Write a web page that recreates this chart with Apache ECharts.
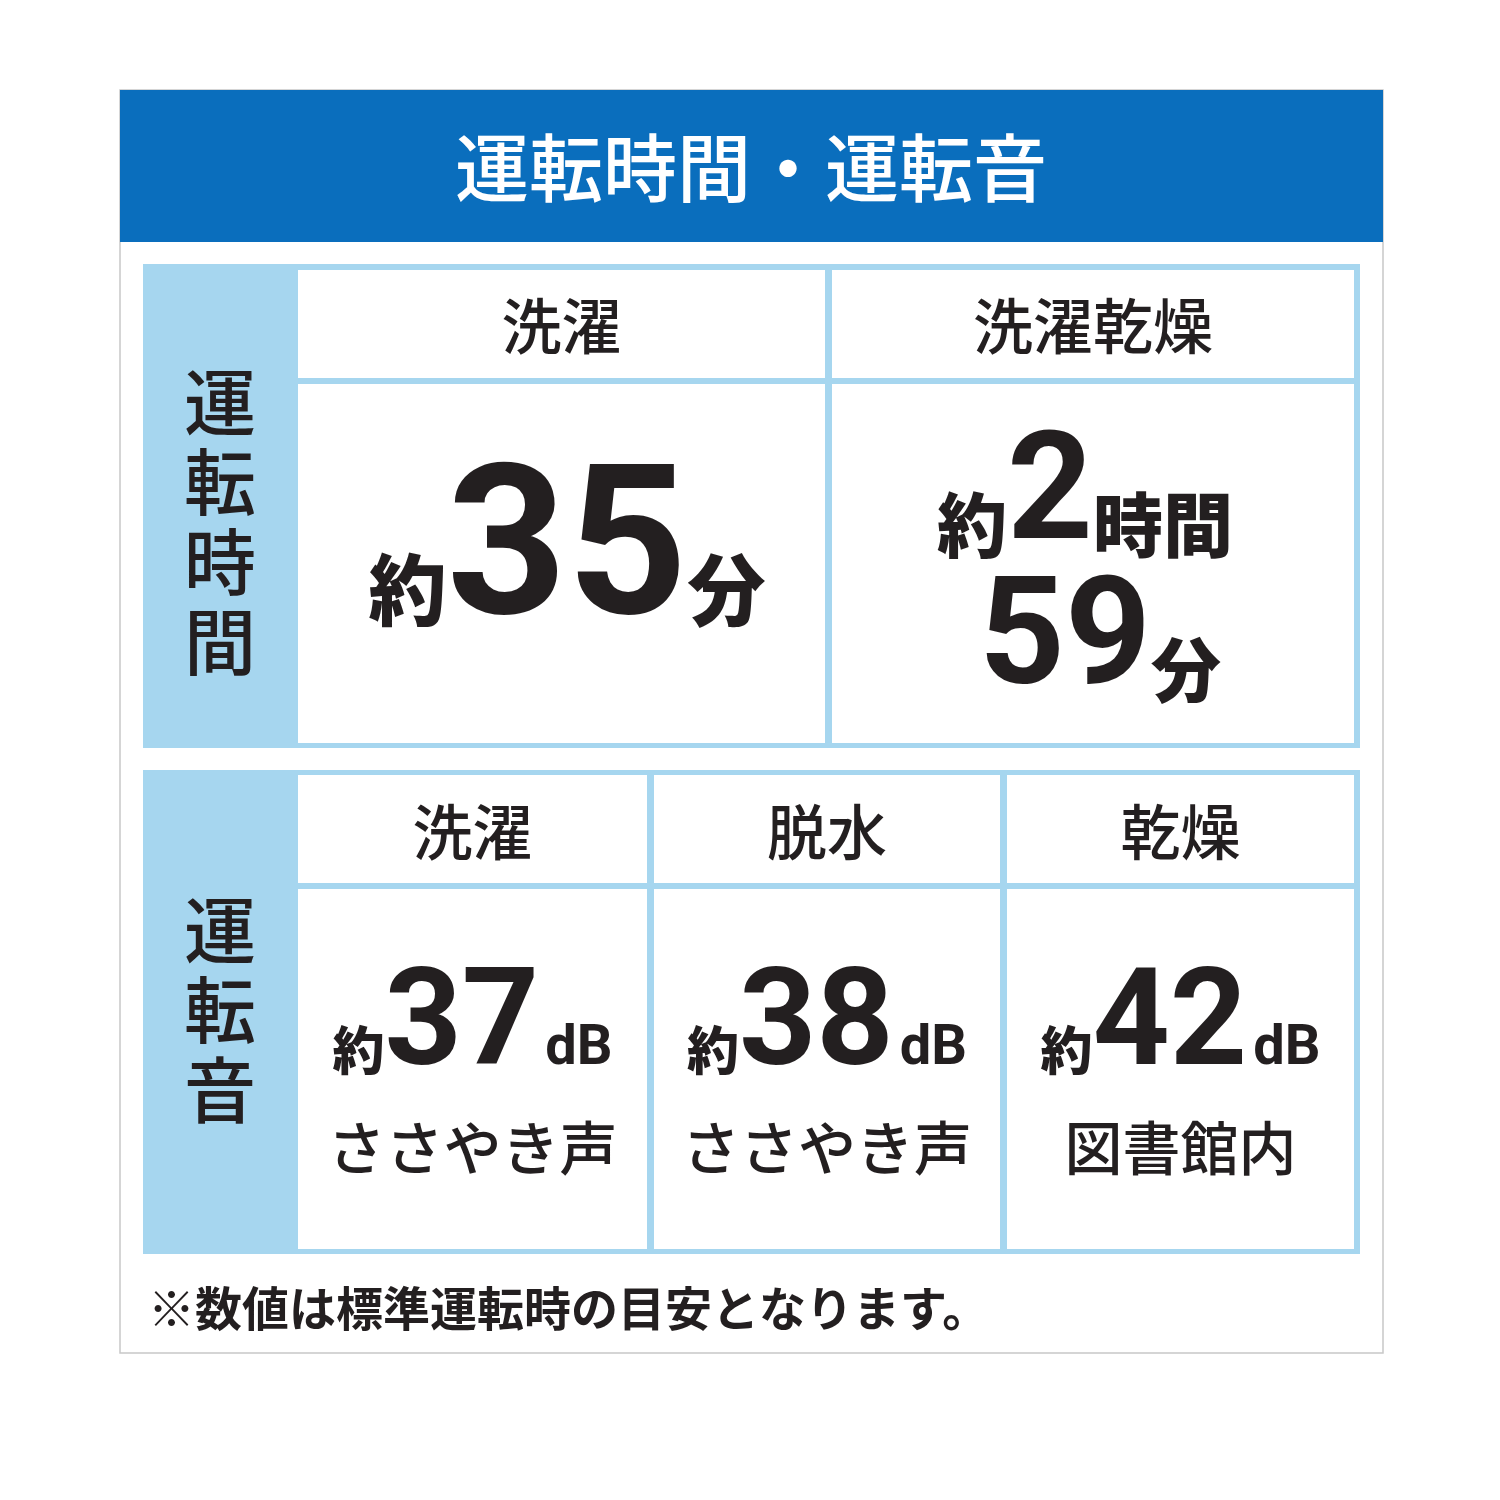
<!DOCTYPE html>
<html><head><meta charset="utf-8">
<script src="https://cdn.jsdelivr.net/npm/echarts@6/dist/echarts.min.js"></script>
<style>body{margin:0;background:#fff}#main{width:1500px;height:1500px}</style>
</head><body><div id="main"></div>
<script>
var title = "運転時間・運転音";
var timeLabel = "運転時間";
var soundLabel = "運転音";
var timeModes = ["洗濯", "洗濯乾燥"];
var timeHours = [null, 2];
var timeMinutes = [35, 59];
var soundModes = ["洗濯", "脱水", "乾燥"];
var soundDb = [37, 38, 42];
var soundExamples = ["ささやき声", "ささやき声", "図書館内"];
var note = "※数値は標準運転時の目安となります。";

var myChart = echarts.init(document.getElementById("main"));
var FONT = "Noto Sans CJK JP";
var INK = "#231f20";
var LIGHT = "#a6d6ef";
var els = [];

function rect(x, y, w, h, fill, stroke) {
    els.push({ type: "rect", shape: { x: x, y: y, width: w, height: h },
        style: { fill: fill, stroke: stroke || null, lineWidth: stroke ? 1.5 : 0 } });
}
function text(x, y, t, size, weight, color, rich, lh) {
    els.push({ type: "text", x: x, y: y, style: { text: t, fontSize: size, fontWeight: weight || 500,
        fontFamily: FONT, fill: color || INK, align: "center", verticalAlign: "middle", rich: rich,
        lineHeight: lh } });
}

rect(120, 90, 1263, 1263, "#fff", "#c8c8c8");
rect(120, 90, 1263, 152, "#0a6ebd");
text(751, 168, title, 74, 500, "#fff");

// section 1
rect(143, 264, 1217, 484, LIGHT);
text(220, 522, timeLabel.split("").join("\n"), 72, 500, INK, null, 80);
var c1 = [[298, 527], [832, 522]];
c1.forEach(function (c, i) {
    rect(c[0], 270, c[1], 108, "#fff");
    rect(c[0], 384, c[1], 359, "#fff");
    text(c[0] + c[1] / 2, 326, timeModes[i], 60);
});
var bigRich = {
    s: { fontSize: 78, fontWeight: 900, fontFamily: FONT, fill: INK, padding: [60, 0, 0, 0] },
    b: { fontSize: 210, fontWeight: "bold", fontFamily: "Roboto", fill: INK },
    m: { fontSize: 150, fontWeight: "bold", fontFamily: "Roboto", fill: INK },
    t: { fontSize: 70, fontWeight: 900, fontFamily: FONT, fill: INK, padding: [50, 0, 0, 0] }
};
text(567, 560, "{s|約}{b|" + timeMinutes[0] + "}{s|分}", 80, "bold", INK, bigRich);
text(1085, 500, "{t|約}{m|" + timeHours[1] + "}{t|時間}", 80, "bold", INK, bigRich);
text(1100, 645, "{m|" + timeMinutes[1] + "}{t|分}", 80, "bold", INK, bigRich);

// section 2
rect(143, 770, 1217, 484, LIGHT);
text(220, 1010, soundLabel.split("").join("\n"), 72, 500, INK, null, 80);
var c2 = [[298, 349], [654, 346], [1007, 347]];
var dbRich = {
    s: { fontSize: 52, fontWeight: 900, fontFamily: FONT, fill: INK, padding: [40, 0, 0, 0] },
    b: { fontSize: 135, fontWeight: "bold", fontFamily: "Roboto", fill: INK },
    d: { fontSize: 56, fontWeight: "bold", fontFamily: "Roboto", fill: INK, padding: [40, 0, 0, 6] }
};
c2.forEach(function (c, i) {
    rect(c[0], 775, c[1], 108, "#fff");
    rect(c[0], 889, c[1], 360, "#fff");
    var cx = c[0] + c[1] / 2;
    text(cx, 832, soundModes[i], 60);
    text(cx, 1030, "{s|約}{b|" + soundDb[i] + "}{d|dB}", 80, "bold", INK, dbRich);
    text(cx, 1148, soundExamples[i], 58);
});

els.push({ type: "text", x: 148, y: 1308, style: { text: note, fontSize: 47, fontWeight: "bold",
    fontFamily: FONT, fill: INK, verticalAlign: "middle" } });

myChart.setOption({ graphic: { elements: els } });
</script></body></html>
